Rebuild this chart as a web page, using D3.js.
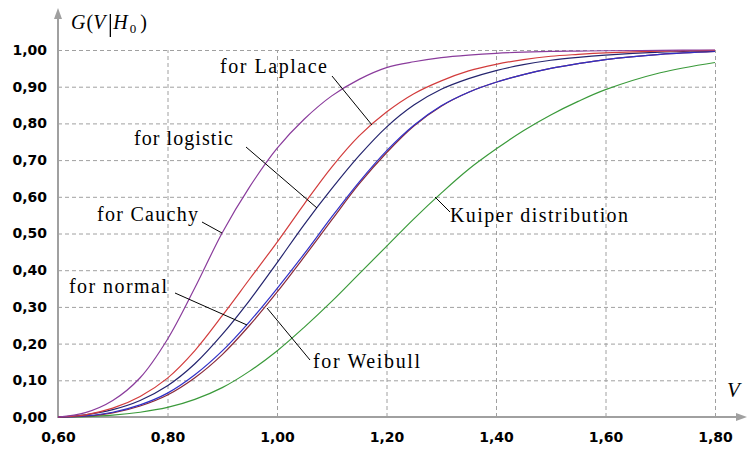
<!DOCTYPE html>
<html>
<head>
<meta charset="utf-8">
<title>Kuiper statistic distributions</title>
<style>
  body { margin: 0; background: #fff; }
  .tick text { font-family: "DejaVu Sans", sans-serif; font-weight: bold; font-size: 14px; fill: #000; }
  .grid line { stroke: #a0a0a0; stroke-dasharray: 4,3; }
  .grid .domain { display: none; }
</style>
</head>
<body>
<svg width="747" height="450"></svg>
<script src="https://d3js.org/d3.v7.min.js"></script>
<script>
// sample points of V
var vs = [0.60, 0.65, 0.70, 0.75, 0.80, 0.85, 0.90, 0.95, 1.00, 1.05, 1.10, 1.15, 1.20,
          1.25, 1.30, 1.35, 1.40, 1.45, 1.50, 1.55, 1.60, 1.70, 1.80];

// G(V|H0)
var cauchy   = [0, 0.012, 0.045, 0.107, 0.212, 0.352, 0.502, 0.627, 0.732, 0.812, 0.875, 0.920, 0.952,
                0.968, 0.979, 0.986, 0.991, 0.994, 0.996, 0.997, 0.998, 0.999, 1.0];
var laplace  = [0, 0.006, 0.024, 0.056, 0.106, 0.181, 0.276, 0.376, 0.476, 0.581, 0.681, 0.766, 0.831,
                0.881, 0.916, 0.943, 0.961, 0.974, 0.983, 0.988, 0.992, 0.997, 0.999];
var logistic = [0, 0.006, 0.020, 0.045, 0.085, 0.145, 0.225, 0.318, 0.420, 0.525, 0.622, 0.712, 0.790,
                0.850, 0.893, 0.922, 0.944, 0.960, 0.972, 0.980, 0.986, 0.994, 0.998];
var normal   = [0, 0.003, 0.013, 0.033, 0.065, 0.115, 0.180, 0.260, 0.350, 0.445, 0.545, 0.640, 0.725,
                0.795, 0.848, 0.885, 0.912, 0.933, 0.950, 0.963, 0.974, 0.988, 0.996];
var weibull  = [0, 0.002, 0.011, 0.030, 0.060, 0.107, 0.170, 0.250, 0.340, 0.437, 0.537, 0.635, 0.720,
                0.793, 0.847, 0.885, 0.912, 0.933, 0.950, 0.963, 0.974, 0.988, 0.996];
var kuiper   = [0, 0.001, 0.005, 0.013, 0.026, 0.048, 0.080, 0.125, 0.180, 0.245, 0.315, 0.390, 0.465,
                0.540, 0.610, 0.675, 0.730, 0.780, 0.823, 0.860, 0.892, 0.938, 0.966];

var xTicks = [0.6, 0.8, 1.0, 1.2, 1.4, 1.6, 1.8];
var yTicks = [0, 0.1, 0.2, 0.3, 0.4, 0.5, 0.6, 0.7, 0.8, 0.9, 1.0];

var series = [
  { name: "Kuiper", values: kuiper,   color: "#3a9a3a" },
  { name: "Weibull", values: weibull, color: "#8a2a3a" },
  { name: "normal", values: normal,   color: "#3030c8" },
  { name: "logistic", values: logistic, color: "#24246e" },
  { name: "Laplace", values: laplace, color: "#d23c3c" },
  { name: "Cauchy", values: cauchy,   color: "#8a3c9c" }
];

var serif = "'Liberation Serif'";

var svg = d3.select("svg");
var x = d3.scaleLinear().domain([0.6, 1.8]).range([58, 715]);
var y = d3.scaleLinear().domain([0, 1]).range([417, 50]);
var fmt = function (d) { return d3.format(".2f")(d).replace(".", ","); };

// grid
svg.append("g").attr("class", "grid")
  .attr("transform", "translate(0,417)")
  .call(d3.axisBottom(x).tickValues(xTicks.slice(1)).tickSize(-367).tickFormat(""));
svg.append("g").attr("class", "grid")
  .attr("transform", "translate(58,0)")
  .call(d3.axisLeft(y).tickValues(yTicks.slice(1)).tickSize(-657).tickFormat(""));

// tick labels
var xa = svg.append("g").attr("transform", "translate(0,417)")
  .call(d3.axisBottom(x).tickValues(xTicks).tickSize(0).tickPadding(15).tickFormat(fmt));
xa.select(".domain").remove();
var ya = svg.append("g").attr("transform", "translate(58,0)")
  .call(d3.axisLeft(y).tickValues(yTicks).tickSize(0).tickPadding(11).tickFormat(fmt));
ya.select(".domain").remove();

// axes with arrows
svg.append("line").attr("x1", 58).attr("x2", 58).attr("y1", 418).attr("y2", 16)
  .attr("stroke", "#a0a0a0").attr("stroke-width", 2);
svg.append("path").attr("d", "M58,8L62,19L54,19Z").attr("fill", "#a0a0a0");
svg.append("line").attr("x1", 57).attr("x2", 738).attr("y1", 417).attr("y2", 417)
  .attr("stroke", "#a0a0a0").attr("stroke-width", 2);
svg.append("path").attr("d", "M747,417L736,413L736,421Z").attr("fill", "#a0a0a0");

// curves
var line = d3.line()
  .x(function (d, i) { return x(vs[i]); })
  .y(function (d) { return y(d); })
  .curve(d3.curveCatmullRom.alpha(0.5));

svg.append("g").selectAll("path")
  .data(series)
  .enter().append("path")
  .attr("d", function (d) { return line(d.values); })
  .attr("fill", "none")
  .attr("stroke", function (d) { return d.color; })
  .attr("stroke-width", 1.2);

// labels with pointer lines
var labels = [
  { text: "for Laplace", x: 220, y: 73, w: 107, p: [[332, 76], [372, 125]] },
  { text: "for logistic", x: 134, y: 145, w: 99, p: [[246, 147], [317, 208]] },
  { text: "for Cauchy", x: 97, y: 221, w: 101, p: [[202, 222], [222, 233]] },
  { text: "for normal", x: 69, y: 293, w: 98, p: [[175, 293], [247, 325]] },
  { text: "for Weibull", x: 313, y: 368, w: 107, p: [[310, 360], [267, 308]] },
  { text: "Kuiper distribution", x: 450, y: 222, w: 178, p: [[450, 212], [435, 197]] }
];

labels.forEach(function (l) {
  svg.append("text")
    .attr("x", l.x).attr("y", l.y)
    .style("font-family", serif).style("font-size", "20px")
    .attr("textLength", l.w).attr("lengthAdjust", "spacing")
    .text(l.text);
  svg.append("line")
    .attr("x1", l.p[0][0]).attr("y1", l.p[0][1])
    .attr("x2", l.p[1][0]).attr("y2", l.p[1][1])
    .attr("stroke", "#000").attr("stroke-width", 1);
});

// axis titles
var gt = svg.append("text").attr("x", 71).attr("y", 29)
  .style("font-family", serif).style("font-size", "20px");
gt.append("tspan").style("font-style", "italic").text("G");
gt.append("tspan").attr("dx", 1).text("(");
gt.append("tspan").style("font-style", "italic").text("V");
var w1 = gt.node().getComputedTextLength();
var bx = 71 + w1 + 6;
svg.append("line").attr("x1", bx).attr("x2", bx).attr("y1", 14).attr("y2", 37)
  .attr("stroke", "#000").attr("stroke-width", 1.3);
var gt2 = svg.append("text").attr("x", bx + 3).attr("y", 29)
  .style("font-family", serif).style("font-size", "20px");
gt2.append("tspan").style("font-style", "italic").text("H");
gt2.append("tspan").attr("dy", 4).attr("dx", 2).style("font-size", "13px").text("0");
gt2.append("tspan").attr("dy", -4).attr("dx", 4).text(")");

svg.append("text").attr("x", 727).attr("y", 397)
  .style("font-family", serif).style("font-size", "21px").style("font-style", "italic")
  .text("V");
</script>
</body>
</html>
